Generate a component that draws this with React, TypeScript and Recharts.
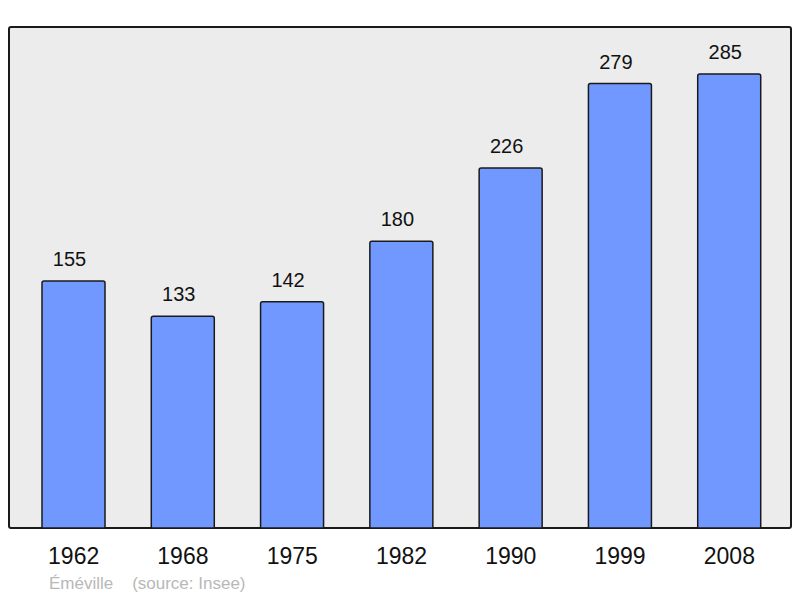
import React from 'react';
import { BarChart, Bar, XAxis, YAxis, LabelList } from 'recharts';

const years = ['1962', '1968', '1975', '1982', '1990', '1999', '2008'];
const population = [155, 133, 142, 180, 226, 279, 285];
const townName = 'Éméville';
const sourceNote = '(source: Insee)';

const data = years.map((year, i) => ({ year, population: population[i] }));

const FONT = '"Liberation Sans", Arial, sans-serif';

export default function App() {
  return (
    <div style={{ position: 'absolute', left: 0, top: 0, width: 800, height: 598, background: '#fff', fontFamily: FONT }}>
      {/* plot frame */}
      <div
        style={{
          position: 'absolute',
          left: 8,
          top: 26,
          width: 780,
          height: 499,
          background: '#ececec',
          border: '2px solid #1a1a1a',
          borderRadius: 3,
        }}
      />
      <div style={{ position: 'absolute', left: 0, top: 0 }}>
        <BarChart
          width={800}
          height={598}
          data={data}
          margin={{ top: 27, right: 9, bottom: 30, left: 9 }}
          barSize={63}
        >
          <XAxis
            dataKey="year"
            axisLine={false}
            tickLine={false}
            tickSize={0}
            tickMargin={20}
            height={40}
            padding={{ left: 10, right: 7 }}
            tick={{ fontSize: 23, fill: '#111', fontFamily: FONT }}
          />
          <YAxis hide domain={[0, 314.5]} />
          <Bar
            dataKey="population"
            fill="#7098ff"
            stroke="#1a1a1a"
            strokeWidth={1.5}
            radius={[2, 2, 0, 0]}
            isAnimationActive={false}
          >
            <LabelList
              dataKey="population"
              position="top"
              offset={15}
              dx={-4}
              style={{ fontSize: 20, fill: '#111', fontFamily: FONT }}
            />
          </Bar>
        </BarChart>
      </div>
      <div
        style={{
          position: 'absolute',
          left: 49,
          top: 574,
          fontSize: 17,
          color: '#b8b8b8',
          whiteSpace: 'pre',
        }}
      >
        {townName + '    ' + sourceNote}
      </div>
    </div>
  );
}
